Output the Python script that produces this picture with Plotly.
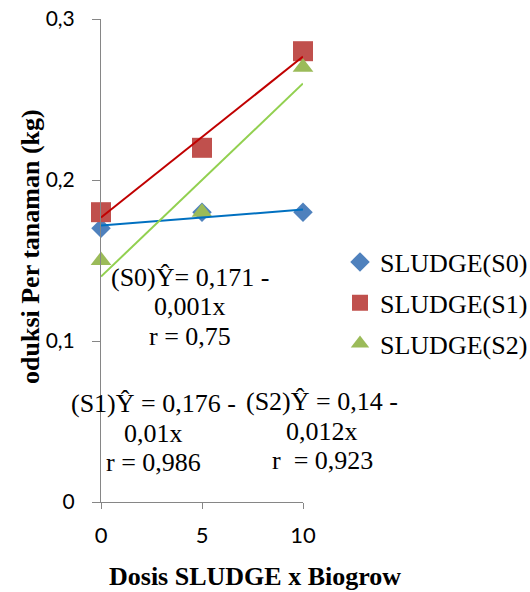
import plotly.graph_objects as go
import numpy as np

# ---- data ----
dosis = [0, 5, 10]
s0 = [0.17, 0.18, 0.18]
s1 = [0.18, 0.22, 0.28]
s2 = [0.15, 0.18, 0.27]
series_names = ["SLUDGE(S0)", "SLUDGE(S1)", "SLUDGE(S2)"]
y_ticks = [0, 0.1, 0.2, 0.3]
y_ticklabels = ["0", "0,1", "0,2", "0,3"]
x_ticks = [0, 5, 10]
x_ticklabels = ["0", "5", "10"]
eq_s0 = ["(S0)Ŷ= 0,171 -", "0,001x", "r = 0,75"]
eq_s1 = ["(S1)Ŷ = 0,176 -", "0,01x", "r = 0,986"]
eq_s2 = ["(S2)Ŷ = 0,14 -", "0,012x", "r  = 0,923"]
x_title = "Dosis SLUDGE x Biogrow"
y_title = "oduksi Per tanaman (kg)"

# ---- layout constants (pixels) ----
W, H = 530, 592
L, R, T, B = 101, 227, 19, 90
PW, PH = W - L - R, H - T - B

def px(x):
    return (x - L) / PW

def py(y):
    return (H - B - y) / PH

SERIF = "Times New Roman, Liberation Serif, serif"
SANS = "Lato, Calibri, sans-serif"

marker_colors = ["#4F81BD", "#C0504D", "#9BBB59"]
line_colors = ["#0070C0", "#C00000", "#92D050"]
symbols = ["diamond", "square", "triangle-up"]
sizes = [15, 20, 18]

fig = go.Figure()
all_series = [s0, s1, s2]
for i, ys in enumerate(all_series):
    fig.add_trace(go.Scatter(
        x=dosis, y=ys, mode="markers", name=series_names[i],
        legendgroup=series_names[i],
        marker=dict(symbol=symbols[i], size=sizes[i], color=marker_colors[i],
                    line=dict(width=0)),
        cliponaxis=False,
    ))

# linear trend lines (least squares on the data)
xa = np.array(dosis, dtype=float)
for i, ys in enumerate(all_series):
    slope, inter = np.polyfit(xa, np.array(ys), 1)
    xs = [min(dosis), max(dosis)]
    fig.add_trace(go.Scatter(
        x=xs, y=[inter + slope * v for v in xs], mode="lines",
        line=dict(color=line_colors[i], width=2), showlegend=False,
        hoverinfo="skip", cliponaxis=False,
    ))

annotations = []

def eq_block(lines, cx, ys):
    for t, yy in zip(lines, ys):
        annotations.append(dict(
            text=t, xref="paper", yref="paper", x=px(cx), y=py(yy),
            xanchor="center", yanchor="middle", showarrow=False,
            font=dict(family=SERIF, size=26, color="#000000"),
        ))

eq_block(eq_s0, 190, [277, 306, 336])
eq_block(eq_s1, 153, [403, 433, 462])
eq_block(eq_s2, 322, [401, 431, 460])

annotations.append(dict(
    text="<b>%s</b>" % x_title, xref="paper", yref="paper",
    x=px(255), y=py(576), xanchor="center", yanchor="middle", showarrow=False,
    font=dict(family=SERIF, size=26, color="#000000"),
))
annotations.append(dict(
    text="<b>%s</b>" % y_title, xref="paper", yref="paper",
    x=px(30), y=py(247), xanchor="center", yanchor="middle", showarrow=False,
    textangle=-90, font=dict(family=SERIF, size=26, color="#000000"),
))

fig.update_layout(
    width=W, height=H,
    margin=dict(l=L, r=R, t=T, b=B, pad=0, autoexpand=False),
    paper_bgcolor="white", plot_bgcolor="white",
    showlegend=True,
    legend=dict(
        x=px(340), y=py(303), xanchor="left", yanchor="middle",
        font=dict(family=SERIF, size=26, color="#000000"),
        bgcolor="rgba(0,0,0,0)", tracegroupgap=4,
    ),
    annotations=annotations,
    xaxis=dict(
        range=[0, 10], tickvals=x_ticks, ticktext=x_ticklabels,
        showgrid=False, zeroline=False, showline=True, linecolor="#868686",
        linewidth=1, ticks="outside", ticklen=6, tickcolor="#868686",
        tickfont=dict(family=SANS, size=22, color="#000000"),
        ticklabelstandoff=8,
        fixedrange=True,
    ),
    yaxis=dict(
        range=[0, 0.3], tickvals=y_ticks, ticktext=y_ticklabels,
        showgrid=False, zeroline=False, showline=True, linecolor="#868686",
        linewidth=1, ticks="outside", ticklen=8, tickcolor="#868686",
        tickfont=dict(family=SANS, size=21, color="#000000"),
        ticklabelstandoff=13,
        fixedrange=True,
    ),
)

fig.write_html(
    "out.html",
    config={"displayModeBar": False},
    post_script="document.body.style.margin='0';document.body.style.overflow='hidden';",
)
